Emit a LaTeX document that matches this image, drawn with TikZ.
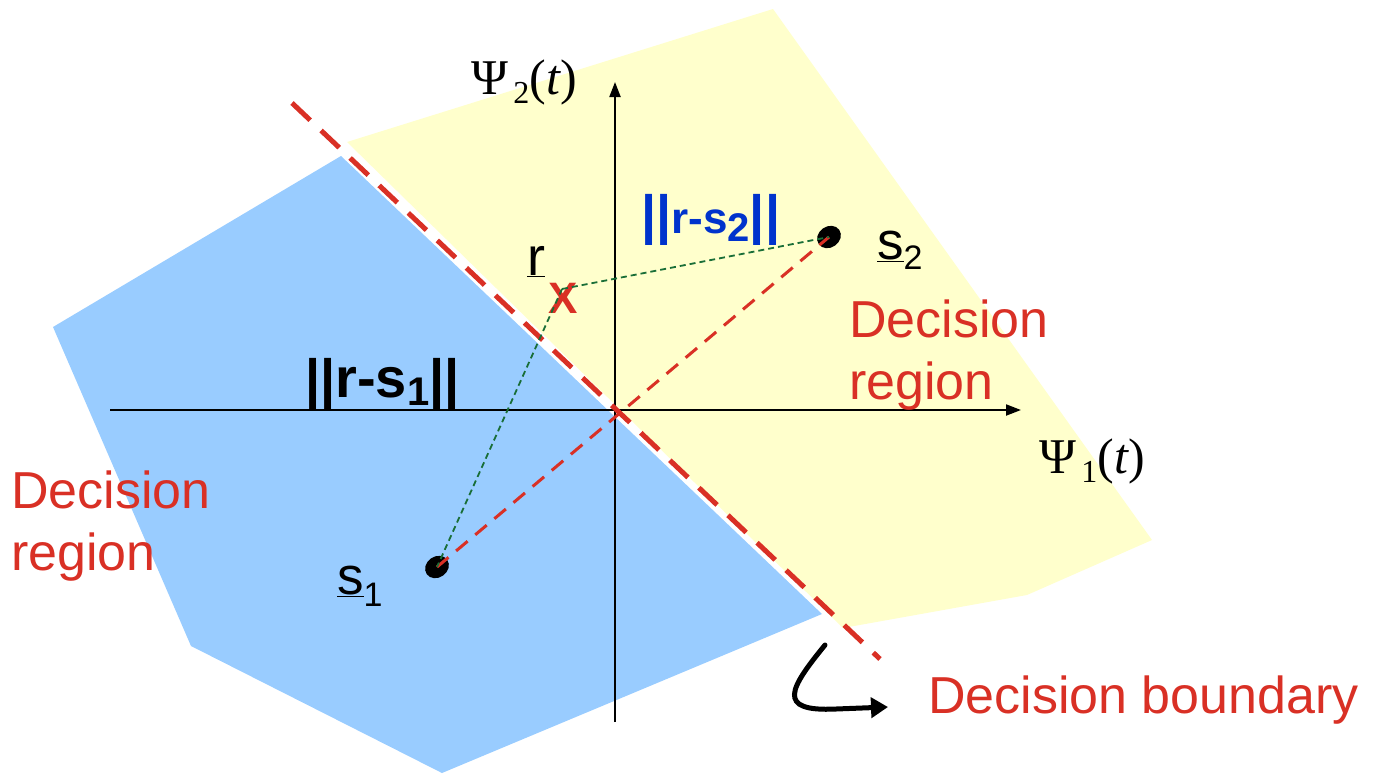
\documentclass[tikz,border=0pt]{standalone}
\usepackage{fontspec}
\setmainfont{Liberation Sans}
\newfontfamily\seriffont{Liberation Serif}
\usetikzlibrary{arrows.meta,shapes.geometric}
\definecolor{dred}{RGB}{217,48,37}
\definecolor{bluefill}{RGB}{153,204,255}
\definecolor{yellowfill}{RGB}{255,255,204}
\definecolor{dblue}{RGB}{0,51,204}
\definecolor{dgreen}{RGB}{25,110,55}
\newcommand{\fs}[1]{\fontsize{#1}{#1}\selectfont}
\tikzset{
  axisline/.style={line width=2pt,-{Triangle[length=15pt,width=11pt]}},
  boundary/.style={draw=dred,line width=5pt,dash pattern=on 25pt off 15pt},
  reddash/.style={draw=dred,line width=3pt,dash pattern=on 15pt off 10pt},
  greendash/.style={draw=dgreen,line width=1.8pt,dash pattern=on 6pt off 4pt},
  dotshape/.style={ellipse,fill=black,minimum width=25pt,minimum height=21pt,inner sep=0pt},
  lbl/.style={inner sep=0pt,anchor=base west},
  redtext/.style={lbl,text=dred,font=\fs{52}},
  pointer/.style={line width=5pt,line cap=round,-{Triangle[length=17pt,width=20pt]}},
}
\begin{document}
\begin{tikzpicture}[x=1pt,y=-1pt]
\useasboundingbox (0,0) rectangle (1373,774);
% regions
\fill[bluefill] (341,156) -- (53,327) -- (191,646) -- (442,773) -- (822,614) -- cycle;
\fill[yellowfill] (347,142) -- (773,9) -- (1152,540) -- (1027,595) -- (843,628) -- cycle;
% axes
\coordinate (xs) at (110,410);
\coordinate (xe) at (1021,410);
\coordinate (ys) at (615,722);
\coordinate (ye) at (615,82);
\draw[axisline] (xs) -- (xe);
\draw[axisline] (ys) -- (ye);
% decision boundary
\coordinate (b1) at (292,103);
\coordinate (b2) at (880,659);
\draw[boundary] (b1) -- (b2);
% points
\node[dotshape,rotate=35] (s1) at (437,567) {};
\node[dotshape,rotate=35] (s2) at (829,237) {};
\node[inner sep=0pt,text=dred,font=\bfseries\fs{44}] (X) at (563,298) {X};
\coordinate (r) at (562,289);
\draw[reddash] (s1.center) -- (s2.center);
\draw[greendash] (r) -- (s1.center);
\draw[greendash] (r) -- (s2.center);
% labels
\node[lbl,font=\fs{54}] (rl) at (527,275) {\underline{r}};
\node[lbl,font=\fs{53}] (s1l) at (337,594) {\underline{s}\raisebox{-12pt}{\fs{34}1}};
\node[lbl,font=\fs{53}] (s2l) at (877,259) {\underline{s}\raisebox{-10pt}{\fs{34}2}};
\node[lbl,font=\bfseries,text=black] (d1) at (305,397) {{\fs{54}||}{\fs{56}r-s}\raisebox{-8pt}{\fs{40}1}{\fs{54}||}};
\node[lbl,font=\bfseries,text=dblue] (d2) at (641,233) {{\fs{54}||}{\fs{44}r-s}\raisebox{-8pt}{\fs{40}2}{\fs{54}||}};
\node[lbl,font=\seriffont] (psi2) at (471,94) {{\fs{50}Ψ}\raisebox{-9pt}{\fs{32}\,2}{\fs{50}(\textit{t})}};
\node[lbl,font=\seriffont] (psi1) at (1039,473) {{\fs{50}Ψ}\raisebox{-9pt}{\fs{32}\,1}{\fs{50}(\textit{t})}};
\node[redtext] (dl1) at (11,508) {Decision};
\node[redtext] (dl2) at (11,570) {region};
\node[redtext] (dr1) at (849,337) {Decision};
\node[redtext] (dr2) at (849,399) {region};
\node[redtext] (db) at (928,713) {Decision boundary};
% pointer arrow
\coordinate (a0) at (825,645);
\coordinate (a1) at (836,709);
\coordinate (a2) at (888,707);
\draw[pointer] (a0) .. controls (790,688) and (775,712) .. (a1) -- (a2);
\end{tikzpicture}
\end{document}
